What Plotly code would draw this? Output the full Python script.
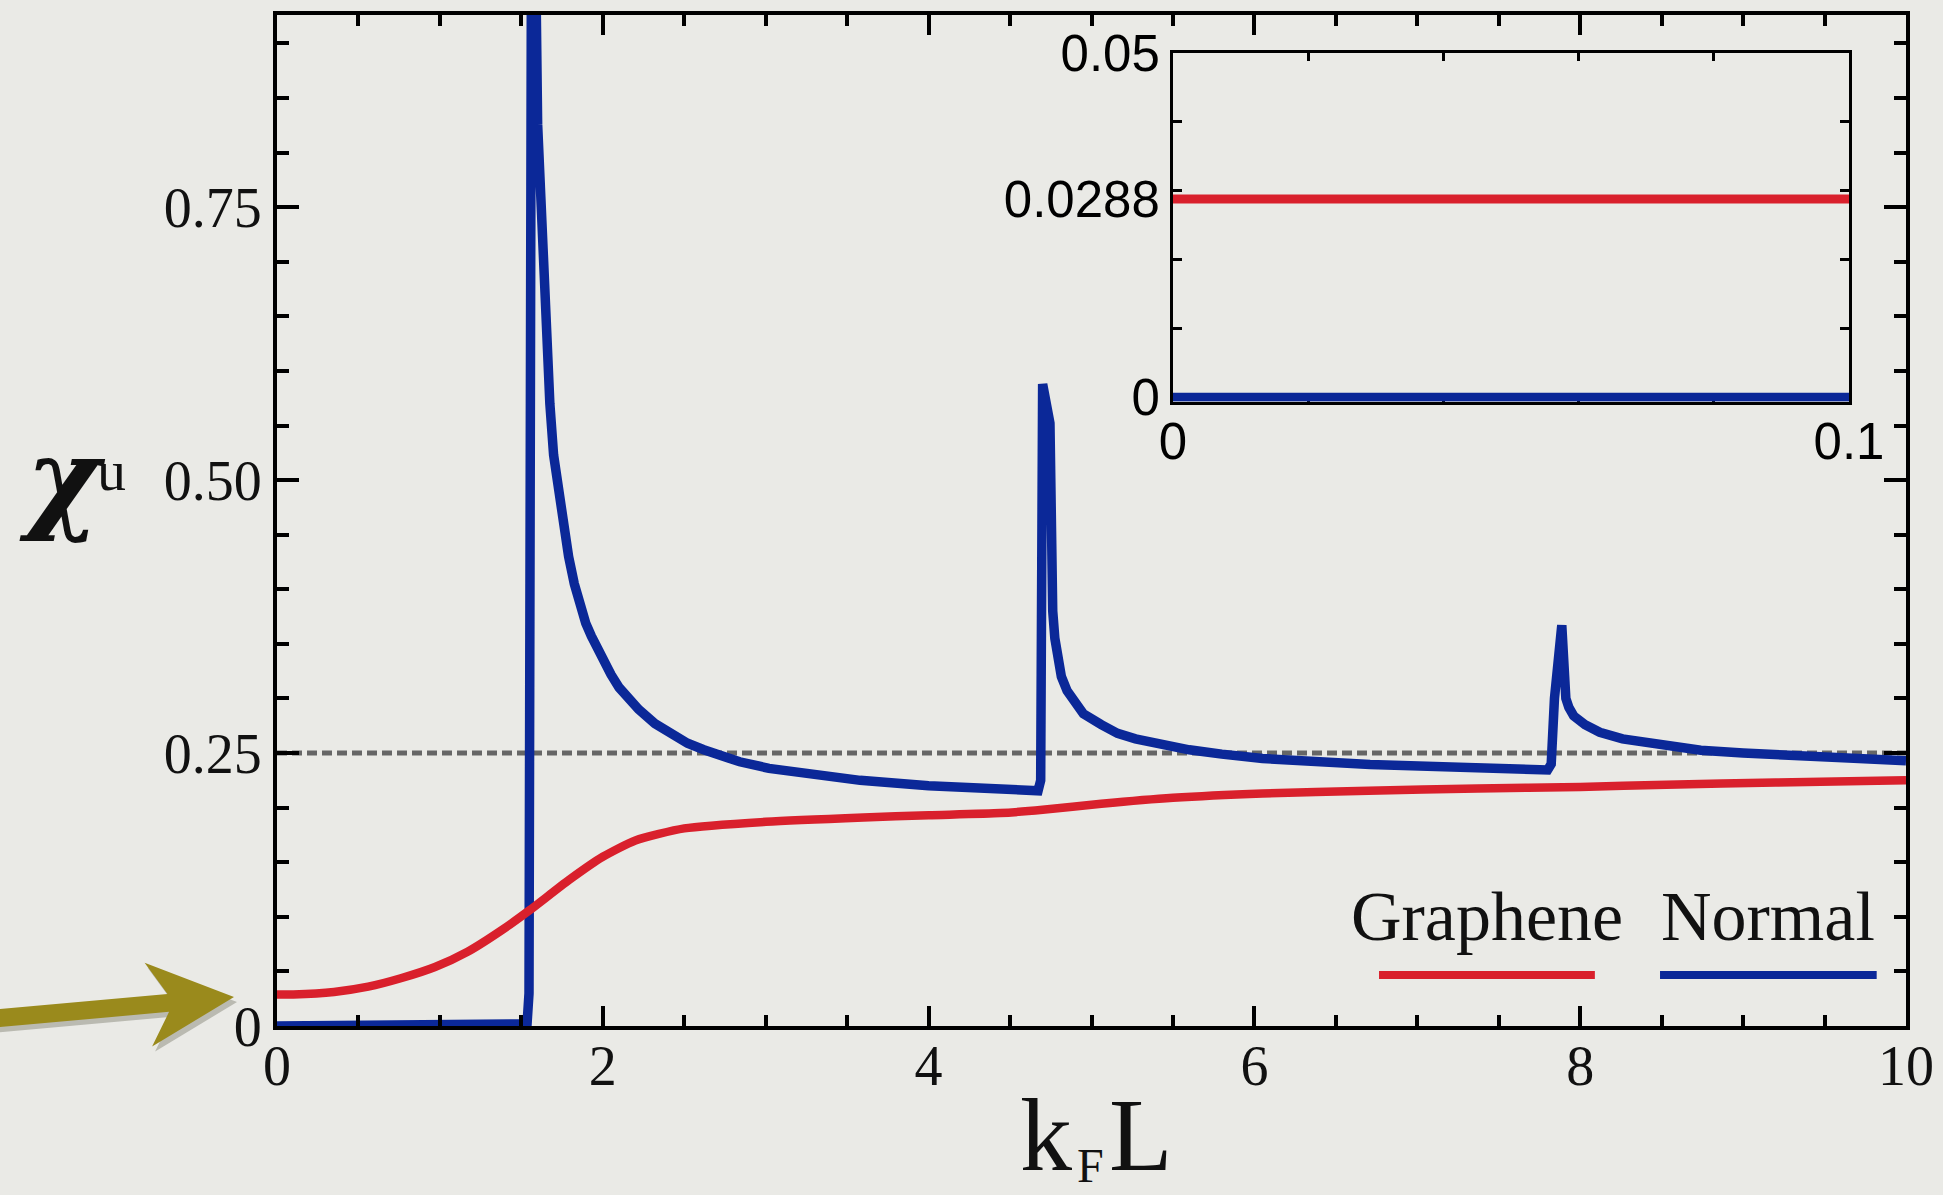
import plotly.graph_objects as go
import math

# ---------------- data ----------------
kfl_normal = [0.0, 1.50, 1.535, 1.547, 1.553, 1.556, 1.566, 1.60, 1.63, 1.657, 1.675,
              1.698, 1.72, 1.745, 1.79, 1.825, 1.862, 1.895, 1.93, 1.995, 2.05, 2.10,
              2.16, 2.22, 2.32, 2.43, 2.52, 2.62, 2.73, 2.84, 3.02, 3.30, 3.58, 4.00,
              4.44, 4.64, 4.672, 4.688, 4.697, 4.700, 4.745, 4.752, 4.762, 4.775, 4.79,
              4.815, 4.85, 4.90, 4.95, 5.06, 5.16, 5.27, 5.39, 5.60, 5.80, 6.05, 6.71,
              7.37, 7.75, 7.80, 7.822, 7.842, 7.887, 7.905, 7.912, 7.93, 7.96, 8.03,
              8.12, 8.26, 8.43, 8.74, 9.00, 9.36, 10.0]
chi_normal = [0.0, 0.0, 0.002, 0.03, 0.5, 1.0, 1.25, 0.826, 0.709, 0.616, 0.570,
              0.523, 0.497, 0.470, 0.430, 0.405, 0.383, 0.369, 0.357, 0.336, 0.322, 0.310,
              0.299, 0.290, 0.277, 0.266, 0.259, 0.253, 0.247, 0.242, 0.236, 0.2295, 0.225, 0.220,
              0.216, 0.214, 0.2155, 0.225, 0.35, 0.588, 0.552, 0.45, 0.38, 0.355, 0.335,
              0.320, 0.307, 0.295, 0.286, 0.276, 0.268, 0.263, 0.259, 0.253, 0.249, 0.245, 0.2395,
              0.236, 0.234, 0.2345, 0.240, 0.300, 0.367, 0.314, 0.300, 0.292, 0.284, 0.276,
              0.269, 0.263, 0.259, 0.2525, 0.250, 0.247, 0.243]

kfl_graphene = [0.0, 0.10, 0.35, 0.56, 0.76, 0.97, 1.17, 1.38, 1.55, 1.79, 2.00, 2.20,
                2.50, 3.00, 3.60, 4.00, 4.44, 4.70, 5.06, 5.50, 6.05, 6.70, 7.37, 8.00,
                8.53, 9.20, 10.0]
chi_graphene = [0.0288, 0.0289, 0.0312, 0.036, 0.0437, 0.054, 0.068, 0.0878, 0.106,
                0.1335, 0.155, 0.170, 0.181, 0.187, 0.191, 0.193, 0.195, 0.198, 0.2035,
                0.209, 0.213, 0.2155, 0.2175, 0.219, 0.221, 0.223, 0.225]

inset_x = [0.0, 0.1]
inset_graphene = [0.0288, 0.0288]
inset_normal = [0.0, 0.0]

x_tickvals = [0, 2, 4, 6, 8, 10]
x_ticktext = ["0", "2", "4", "6", "8", "10"]
y_tickvals = [0, 0.25, 0.5, 0.75]
y_ticktext = ["0", "0.25", "0.50", "0.75"]
inset_x_tickvals = [0, 0.1]
inset_x_ticktext = ["0", "0.1"]
inset_y_tickvals = [0, 0.0288, 0.05]
inset_y_ticktext = ["0", "0.0288", "0.05"]
reference_level = 0.25
legend_names = ["Graphene", "Normal"]

# ---------------- style ----------------
W, H = 1943, 1195
ML, MR, MT, MB = 277, 37, 15, 169
PW, PH = W - ML - MR, H - MT - MB
BG = "#EAEAE6"
RED = "#D9202C"
BLUE = "#0B2898"
SERIF = "Liberation Serif"
SANS = "Liberation Sans"
INK = "#111111"

def px_x(px):
    return (px - ML) / PW

def px_y(py):
    return (H - MB - py) / PH

fig = go.Figure()
fig.add_trace(go.Scatter(x=kfl_normal, y=chi_normal, mode="lines",
                         line=dict(color=BLUE, width=9.5), showlegend=False))
fig.add_trace(go.Scatter(x=kfl_graphene, y=chi_graphene, mode="lines",
                         line=dict(color=RED, width=8.5, shape="spline", smoothing=0.6),
                         showlegend=False))
fig.add_trace(go.Scatter(x=inset_x, y=inset_graphene, mode="lines", xaxis="x2", yaxis="y2",
                         line=dict(color=RED, width=9), showlegend=False))
fig.add_trace(go.Scatter(x=inset_x, y=inset_normal, mode="lines", xaxis="x2", yaxis="y2",
                         line=dict(color=BLUE, width=9), showlegend=False))

# dashed reference line
fig.add_shape(type="line", xref="x", yref="y", x0=0, x1=10, y0=reference_level, y1=reference_level,
              line=dict(color="#666666", width=5, dash="10px,5px"), layer="below")

# legend (text above line samples)
legend_x = [(6.765, 8.09), (8.49, 9.82)]
legend_colors = [RED, BLUE]
for (a, b), c, name in zip(legend_x, legend_colors, legend_names):
    fig.add_shape(type="line", xref="x", yref="y", x0=a, x1=b, y0=0.0467, y1=0.0467,
                  line=dict(color=c, width=8))
    fig.add_annotation(x=(a + b) / 2, y=0.1005,
                       xref="x", yref="y", text=name, showarrow=False,
                       font=dict(family=SERIF, size=70, color=INK),
                       xanchor="center", yanchor="middle")

# x-axis title  k_F L  (bottom-anchored so the boxes stay inside the page)
fig.add_annotation(x=px_x(1046), y=px_y(1194), xref="paper", yref="paper",
                   text="k", showarrow=False, font=dict(family=SERIF, size=104, color=INK),
                   xanchor="center", yanchor="bottom")
fig.add_annotation(x=px_x(1090), y=px_y(1194), xref="paper", yref="paper",
                   text="F", showarrow=False, font=dict(family=SERIF, size=48, color=INK),
                   xanchor="center", yanchor="bottom")
fig.add_annotation(x=px_x(1141), y=px_y(1194), xref="paper", yref="paper",
                   text="L", showarrow=False, font=dict(family=SERIF, size=104, color=INK),
                   xanchor="center", yanchor="bottom")

# y-axis title  chi^u
fig.add_annotation(x=px_x(62), y=px_y(478), xref="paper", yref="paper",
                   text="<i><b>χ</b></i>", showarrow=False,
                   font=dict(family="DejaVu Serif", size=112, color=INK),
                   xanchor="center", yanchor="middle")
fig.add_annotation(x=px_x(111), y=px_y(470), xref="paper", yref="paper",
                   text="u", showarrow=False,
                   font=dict(family=SERIF, size=58, color=INK),
                   xanchor="center", yanchor="middle")

# olive arrow pointing at the zero label
tip = (234.0, 997.0)
tail = (0.0, 1018.0)
dx, dy = tip[0] - tail[0], tip[1] - tail[1]
L = math.hypot(dx, dy)
ux, uy = dx / L, dy / L
nx, ny = -uy, ux
local = [(-262, -9), (-66, -9), (-86, -42), (0, 0), (-86, 42), (-66, 9), (-262, 9)]

def arrow_path(ox, oy):
    pts = []
    for s, w in local:
        px = tip[0] + s * ux + w * nx + ox
        py = tip[1] + s * uy + w * ny + oy
        pts.append((px_x(px), px_y(py)))
    return "M " + " L ".join(f"{a:.5f},{b:.5f}" for a, b in pts) + " Z"

fig.add_shape(type="path", xref="paper", yref="paper", path=arrow_path(3, 5),
              fillcolor="rgba(60,60,40,0.28)", line=dict(width=0))
fig.add_shape(type="path", xref="paper", yref="paper", path=arrow_path(0, 0),
              fillcolor="#9A8A1C", line=dict(width=0))

axis_common = dict(showline=True, linecolor="black", mirror="allticks", showgrid=False,
                   zeroline=False, tickcolor="black")

fig.update_layout(
    width=W, height=H,
    margin=dict(l=ML, r=MR, t=MT, b=MB, pad=0, autoexpand=False),
    paper_bgcolor=BG, plot_bgcolor=BG,
    xaxis=dict(domain=[0, 1], range=[0, 10], linewidth=4, tickwidth=4, ticklen=20, ticks="inside",
               tickvals=x_tickvals, ticktext=x_ticktext, ticklabelstandoff=-12,
               tickfont=dict(family=SERIF, size=56, color=INK),
               minor=dict(dtick=0.5, tick0=0, ticks="inside", ticklen=11, tickwidth=4, tickcolor="black"),
               **axis_common),
    yaxis=dict(domain=[0, 1], range=[0, 0.926], linewidth=4, tickwidth=4, ticklen=22, ticks="inside",
               tickvals=y_tickvals, ticktext=y_ticktext,
               tickfont=dict(family=SERIF, size=56, color=INK),
               minor=dict(dtick=0.05, tick0=0, ticks="inside", ticklen=12, tickwidth=4, tickcolor="black"),
               **axis_common),
    xaxis2=dict(domain=[px_x(1173), px_x(1849)], anchor="y2", range=[0, 0.1],
                linewidth=3, tickwidth=3, ticklen=8, ticks="inside",
                tickvals=inset_x_tickvals, ticktext=inset_x_ticktext, ticklabelstandoff=-7,
                tickfont=dict(family=SANS, size=51, color="black"),
                minor=dict(dtick=0.02, tick0=0, ticks="inside", ticklen=8, tickwidth=3, tickcolor="black"),
                layer="below traces",
                **axis_common),
    yaxis2=dict(domain=[px_y(401.5), px_y(53)], anchor="x2", range=[-0.0006, 0.05],
                linewidth=3, tickwidth=3, ticklen=0, ticks="inside",
                tickvals=inset_y_tickvals, ticktext=inset_y_ticktext,
                tickfont=dict(family=SANS, size=51, color="black"),
                minor=dict(dtick=0.01, tick0=0, ticks="inside", ticklen=9, tickwidth=3, tickcolor="black"),
                layer="below traces",
                **axis_common),
)

fig.write_html("out.html")
